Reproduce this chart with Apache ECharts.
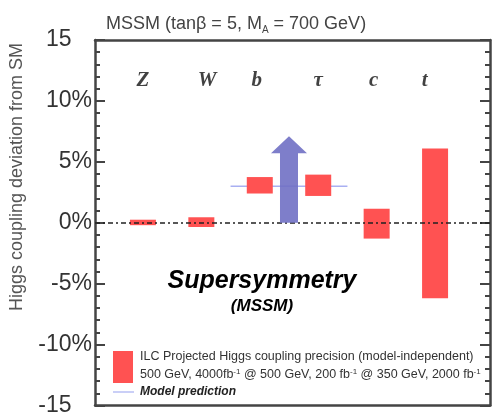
<!DOCTYPE html>
<html><head><meta charset="utf-8">
<script src="https://cdn.jsdelivr.net/npm/echarts@6/dist/echarts.min.js"></script>
<style>html,body{margin:0;padding:0;background:#fff}#c{width:492px;height:417px}</style>
</head><body><div id="c"></div>
<script>
const couplings = ['Z', 'W', 'b', 'τ', 'c', 't'];
const couplingX = [0, 1, 2, 3, 4, 5];
const labelX = [0, 1.1, 1.95, 3.0, 3.95, 4.82];
const precisionLow = [-0.2, -0.35, 2.4, 2.2, -1.3, -6.2];
const precisionHigh = [0.25, 0.45, 3.75, 3.95, 1.15, 6.1];
const modelPrediction = [[1.5, 3.0], [3.5, 3.0]];
const arrowData = [[2.5, 0, 5.7, 7.1]]; // x, base, head base, tip
const yTicks = [-15, -10, -5, 0, 5, 10, 15];

const chart = echarts.init(document.getElementById('c'), null, {renderer: 'canvas'});
const axisColor = '#444';

const barData = couplingX.map((x, i) => [x, precisionLow[i], precisionHigh[i]]);
const labelData = couplings.map((n, i) => ({value: [labelX[i], 11.7], name: n}));

chart.setOption({
  animation: false,
  grid: {left: 95, right: 2, top: 40, bottom: 10, containLabel: false},
  title: {
    text: '{a|MSSM (tanβ = 5, M}{s|A}{a| = 700 GeV)}',
    left: 101, top: 8,
    textStyle: {fontWeight: 'normal', rich: {
      a: {fontFamily: 'Arial, Liberation Sans', fontSize: 18, color: '#444', fontWeight: 'normal'},
      s: {fontFamily: 'Arial, Liberation Sans', fontSize: 10, color: '#444', fontWeight: 'normal', verticalAlign: 'bottom', padding: [12, 0, 0, 0]}
    }}
  },
  xAxis: [
    {type: 'value', min: -0.82, max: 5.94, position: 'bottom',
     axisLine: {show: true, onZero: false, lineStyle: {color: axisColor, width: 2.5}},
     axisTick: {show: false}, axisLabel: {show: false}, splitLine: {show: false}},
    {type: 'value', min: -0.82, max: 5.94, position: 'top',
     axisLine: {show: true, onZero: false, lineStyle: {color: axisColor, width: 2.5}},
     axisTick: {show: false}, axisLabel: {show: false}, splitLine: {show: false}}
  ],
  yAxis: [
    {type: 'value', min: -15, max: 15, interval: 5, position: 'left',
     axisLine: {show: true, onZero: false, lineStyle: {color: axisColor, width: 2.5}},
     axisTick: {show: true, inside: true, length: 10, lineStyle: {color: axisColor, width: 2}},
     minorTick: {show: true, splitNumber: 5, length: 5, lineStyle: {color: axisColor, width: 2}},
     axisLabel: {fontFamily: 'Arial, Liberation Sans', fontSize: 23, color: '#333', margin: 3,
       rich: {
         n: {fontFamily: 'Arial, Liberation Sans', fontSize: 23, color: '#333'},
         h: {fontFamily: 'Arial, Liberation Sans', fontSize: 23, color: 'rgba(0,0,0,0)'}
       },
       formatter: v => (Math.abs(v) === 15 ? '{n|' + v + '}{h|%}' : v + '%')},
     splitLine: {show: false}},
    {type: 'value', min: -15, max: 15, interval: 5, position: 'right',
     axisLine: {show: true, onZero: false, lineStyle: {color: axisColor, width: 2.5}},
     axisTick: {show: true, inside: true, length: 10, lineStyle: {color: axisColor, width: 2}},
     minorTick: {show: true, splitNumber: 5, length: 5, lineStyle: {color: axisColor, width: 2}},
     axisLabel: {show: false}, splitLine: {show: false}}
  ],
  series: [
    {type: 'line', data: [], markLine: {symbol: 'none', silent: true, label: {show: false},
      lineStyle: {color: '#222', type: [5, 3, 2, 3], width: 1.5},
      data: [{yAxis: 0}]}},
    {type: 'line', data: modelPrediction, showSymbol: false, symbol: 'none',
     lineStyle: {color: '#a9b0f2', width: 1.5}, z: 3},
    {type: 'custom', data: barData, z: 4,
     renderItem: (params, api) => {
       const x = api.value(0);
       const p1 = api.coord([x, api.value(2)]);
       const p2 = api.coord([x, api.value(1)]);
       const w = 26;
       return {type: 'rect', shape: {x: p1[0] - w / 2, y: p1[1], width: w, height: p2[1] - p1[1]},
               style: {fill: '#ff5252'}};
     }},
    {type: 'custom', data: arrowData, z: 5,
     renderItem: (params, api) => {
       const x = api.value(0);
       const b = api.coord([x, api.value(1)]);
       const h = api.coord([x, api.value(2)]);
       const t = api.coord([x, api.value(3)]);
       const sw = 9, hw = 18;
       return {type: 'polygon', shape: {points: [
         [b[0] - sw, b[1]], [h[0] - sw, h[1]], [h[0] - hw, h[1]], [t[0], t[1]],
         [h[0] + hw, h[1]], [h[0] + sw, h[1]], [b[0] + sw, b[1]]]},
         style: {fill: 'rgba(112,112,196,0.9)'}};
     }},
    {type: 'scatter', data: labelData, symbolSize: 0, z: 6,
     label: {show: true, position: 'inside', formatter: p => p.name,
       fontFamily: 'Times New Roman, Liberation Serif, DejaVu Serif', fontStyle: 'italic', fontWeight: 'bold',
       fontSize: 21, color: '#111'}}
  ],
  graphic: [
    {type: 'text', x: 17, y: 177, rotation: Math.PI / 2, style: {text: 'Higgs coupling deviation from SM',
      fontFamily: 'Arial, Liberation Sans', fontSize: 18, fill: '#555', align: 'center', verticalAlign: 'middle'}},
    {type: 'text', x: 262, y: 281, style: {text: 'Supersymmetry', fontFamily: 'Arial, Liberation Sans',
      fontSize: 25, fontWeight: 'bold', fontStyle: 'italic', fill: '#000', align: 'center', verticalAlign: 'middle'}},
    {type: 'text', x: 262, y: 306, style: {text: '(MSSM)', fontFamily: 'Arial, Liberation Sans',
      fontSize: 17, fontWeight: 'bold', fontStyle: 'italic', fill: '#000', align: 'center', verticalAlign: 'middle'}},
    {type: 'rect', shape: {x: 113, y: 351, width: 20, height: 32}, style: {fill: '#ff5252'}},
    {type: 'line', shape: {x1: 113, y1: 392, x2: 134, y2: 392}, style: {stroke: '#b9bff5', lineWidth: 1.5}},
    {type: 'text', x: 140, y: 357, style: {text: 'ILC Projected Higgs coupling precision (model-independent)',
      fontFamily: 'Arial, Liberation Sans', fontSize: 12.5, fill: '#333', verticalAlign: 'middle'}},
    {type: 'text', x: 140, y: 375, style: {rich: {
        a: {fontFamily: 'Arial, Liberation Sans', fontSize: 12.5, fill: '#333'},
        s: {fontFamily: 'Arial, Liberation Sans', fontSize: 8, fill: '#333', verticalAlign: 'top', padding: [0, 0, 6, 0]}
      }, text: '{a|500 GeV, 4000fb}{s|-1}{a| @ 500 GeV, 200 fb}{s|-1}{a| @ 350 GeV, 2000 fb}{s|-1}', verticalAlign: 'middle'}},
    {type: 'text', x: 140, y: 392, style: {text: 'Model prediction', fontFamily: 'Arial, Liberation Sans',
      fontSize: 12, fontWeight: 'bold', fontStyle: 'italic', fill: '#222', verticalAlign: 'middle'}}
  ]
});
</script></body></html>
